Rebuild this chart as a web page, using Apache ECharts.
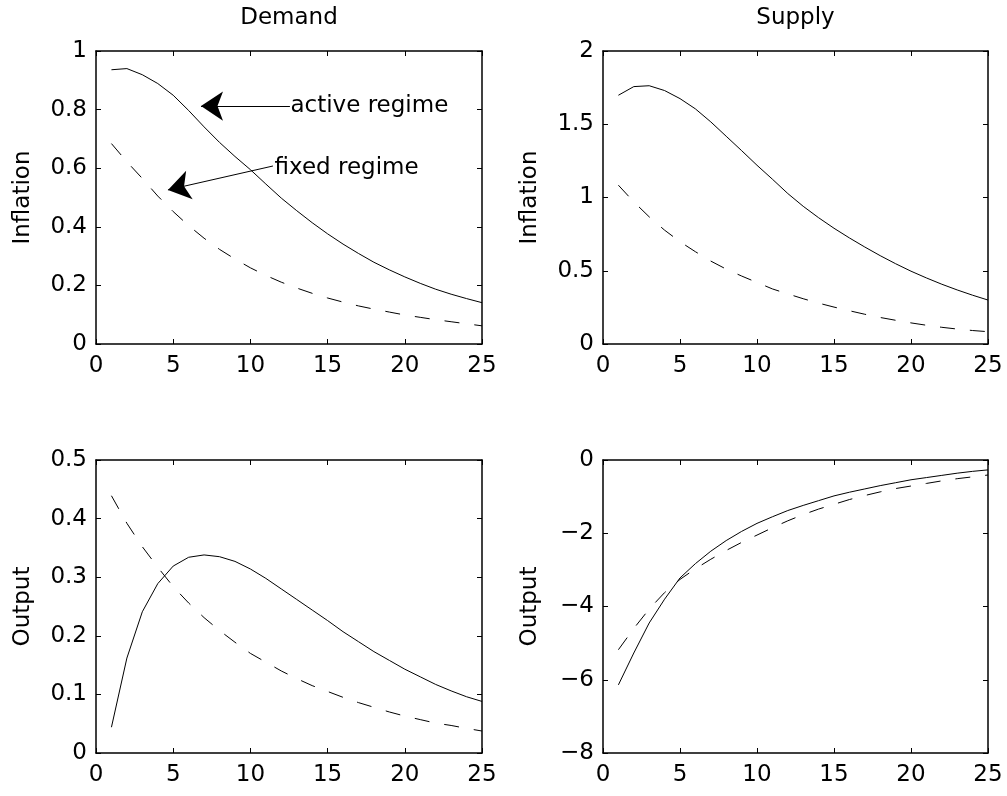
<!DOCTYPE html>
<html>
<head>
<meta charset="utf-8">
<script src="https://cdn.jsdelivr.net/npm/echarts@6/dist/echarts.min.js"></script>
<style>
  html, body { margin: 0; padding: 0; background: #fff; }
  #chart { width: 1007px; height: 796px; }
</style>
</head>
<body>
<div id="chart"></div>
<script>
// ---- data ----
const periods = [1,2,3,4,5,6,7,8,9,10,11,12,13,14,15,16,17,18,19,20,21,22,23,24,25];
const panelTitles = ['Demand', 'Supply'];
const rowLabels = ['Inflation', 'Output'];
const annotationTexts = ['active regime', 'fixed regime'];

const demandInflationActive = [0.936,0.94,0.919,0.889,0.849,0.797,0.741,0.688,0.64,0.595,0.546,0.498,0.455,0.414,0.376,0.341,0.309,0.279,0.253,0.229,0.207,0.187,0.17,0.155,0.141];
const demandInflationFixed  = [0.684,0.622,0.565,0.505,0.452,0.404,0.361,0.323,0.29,0.26,0.234,0.211,0.191,0.173,0.157,0.143,0.13,0.119,0.109,0.099,0.091,0.083,0.076,0.069,0.062];
const supplyInflationActive = [1.698,1.757,1.763,1.73,1.675,1.605,1.516,1.418,1.32,1.22,1.125,1.027,0.94,0.862,0.79,0.724,0.662,0.603,0.548,0.497,0.451,0.408,0.369,0.333,0.30];
const supplyInflationFixed  = [1.084,0.97,0.868,0.777,0.698,0.63,0.566,0.511,0.464,0.42,0.376,0.342,0.309,0.279,0.252,0.227,0.203,0.181,0.162,0.144,0.128,0.114,0.102,0.092,0.084];
const demandOutputActive    = [0.044,0.162,0.241,0.289,0.319,0.334,0.338,0.335,0.327,0.314,0.298,0.28,0.262,0.244,0.226,0.207,0.19,0.173,0.158,0.143,0.13,0.117,0.106,0.096,0.088];
const demandOutputFixed     = [0.439,0.392,0.352,0.317,0.284,0.256,0.231,0.209,0.189,0.17,0.155,0.14,0.127,0.115,0.105,0.095,0.086,0.078,0.07,0.063,0.057,0.051,0.047,0.042,0.0375];
const supplyOutputActive    = [-6.14,-5.27,-4.45,-3.8,-3.22,-2.83,-2.49,-2.2,-1.95,-1.73,-1.55,-1.38,-1.24,-1.11,-0.98,-0.88,-0.79,-0.7,-0.62,-0.54,-0.48,-0.42,-0.36,-0.31,-0.27];
const supplyOutputFixed     = [-5.18,-4.6,-4.07,-3.62,-3.26,-2.97,-2.71,-2.47,-2.25,-2.05,-1.85,-1.66,-1.49,-1.34,-1.21,-1.08,-0.97,-0.87,-0.78,-0.71,-0.64,-0.57,-0.51,-0.46,-0.41];

const xRange = [0, 25, 5];
const yRanges = [[0, 1, 0.2], [0, 2, 0.5], [0, 0.5, 0.1], [-8, 0, 2]];

// ---- layout ----
const FONT = '"DejaVu Sans", sans-serif';
const FS = 23;
const grids = [
  { left: 96,  top: 51,  width: 386, height: 293 },
  { left: 603, top: 51,  width: 385, height: 293 },
  { left: 96,  top: 460, width: 386, height: 293 },
  { left: 603, top: 460, width: 385, height: 293 }
];
const pairs = [
  [demandInflationActive, demandInflationFixed],
  [supplyInflationActive, supplyInflationFixed],
  [demandOutputActive, demandOutputFixed],
  [supplyOutputActive, supplyOutputFixed]
];
const toXY = arr => periods.map((t, i) => [t, arr[i]]);
const fmt = v => String(v).replace('-', '\u2212');

const axisLine = { show: true, onZero: false, lineStyle: { color: '#000', width: 1.5 } };
const axisTickIn = { show: true, inside: true, length: 5, lineStyle: { color: '#000', width: 1 } };

const xAxis = [], yAxis = [], series = [];
grids.forEach((g, i) => {
  const common = { type: 'value', gridIndex: i, splitLine: { show: false }, axisLine, axisTick: axisTickIn };
  xAxis.push(Object.assign({}, common, {
    position: 'bottom', min: xRange[0], max: xRange[1], interval: xRange[2],
    axisLabel: { color: '#000', fontFamily: FONT, fontSize: FS, margin: 11, formatter: fmt }
  }));
  xAxis.push(Object.assign({}, common, {
    position: 'top', min: xRange[0], max: xRange[1], interval: xRange[2],
    axisLabel: { show: false }
  }));
  const yr = yRanges[i];
  yAxis.push(Object.assign({}, common, {
    position: 'left', min: yr[0], max: yr[1], interval: yr[2],
    name: rowLabels[Math.floor(i / 2)], nameLocation: 'middle', nameRotate: 90, nameGap: 61,
    nameTextStyle: { color: '#000', fontFamily: FONT, fontSize: FS },
    axisLabel: { color: '#000', fontFamily: FONT, fontSize: FS, margin: 9, formatter: fmt }
  }));
  yAxis.push(Object.assign({}, common, {
    position: 'right', min: yr[0], max: yr[1], interval: yr[2],
    axisLabel: { show: false }
  }));
  const [act, fix] = pairs[i];
  const base = {
    type: 'line', xAxisIndex: 2 * i, yAxisIndex: 2 * i, showSymbol: false, symbol: 'none',
    silent: true, animation: false, clip: false
  };
  const s1 = Object.assign({}, base, {
    data: toXY(act), lineStyle: { color: '#000', width: 1, type: 'solid' }
  });
  const s2 = Object.assign({}, base, {
    data: toXY(fix), lineStyle: { color: '#000', width: 1, type: [15, 15] }
  });
  if (i === 0) {
    s1.markLine = {
      silent: true, animation: false,
      symbol: ['none', 'arrow'],
      symbolSize: 22,
      label: { show: false },
      lineStyle: { color: '#000', width: 1, type: 'solid' },
      itemStyle: { color: '#000' },
      emphasis: { disabled: true },
      data: [
        [{ coord: [12.56, 0.812] }, { coord: [6.8, 0.812] }],
        [{ coord: [11.46, 0.6075] }, { coord: [4.66, 0.526] }]
      ]
    };
    s1.markPoint = {
      silent: true, animation: false,
      symbol: 'rect', symbolSize: 1,
      itemStyle: { color: 'rgba(0,0,0,0)' },
      label: { show: true, position: 'right', distance: 0, color: '#000', fontFamily: FONT, fontSize: FS, formatter: '{b}' },
      data: [
        { name: annotationTexts[0], coord: [12.56, 0.812] },
        { name: annotationTexts[1], coord: [11.53, 0.6007] }
      ]
    };
  }
  series.push(s1, s2);
});

const chart = echarts.init(document.getElementById('chart'), null, { renderer: 'canvas' });
chart.setOption({
  animation: false,
  backgroundColor: '#fff',
  title: panelTitles.map((t, i) => ({
    text: t, left: grids[i].left + grids[i].width / 2, top: 7, textAlign: 'center', padding: 0,
    textStyle: { color: '#000', fontFamily: FONT, fontSize: FS, fontWeight: 'normal' }
  })),
  grid: grids.map(g => Object.assign({ containLabel: false }, g)),
  xAxis, yAxis, series
});
</script>
</body>
</html>
